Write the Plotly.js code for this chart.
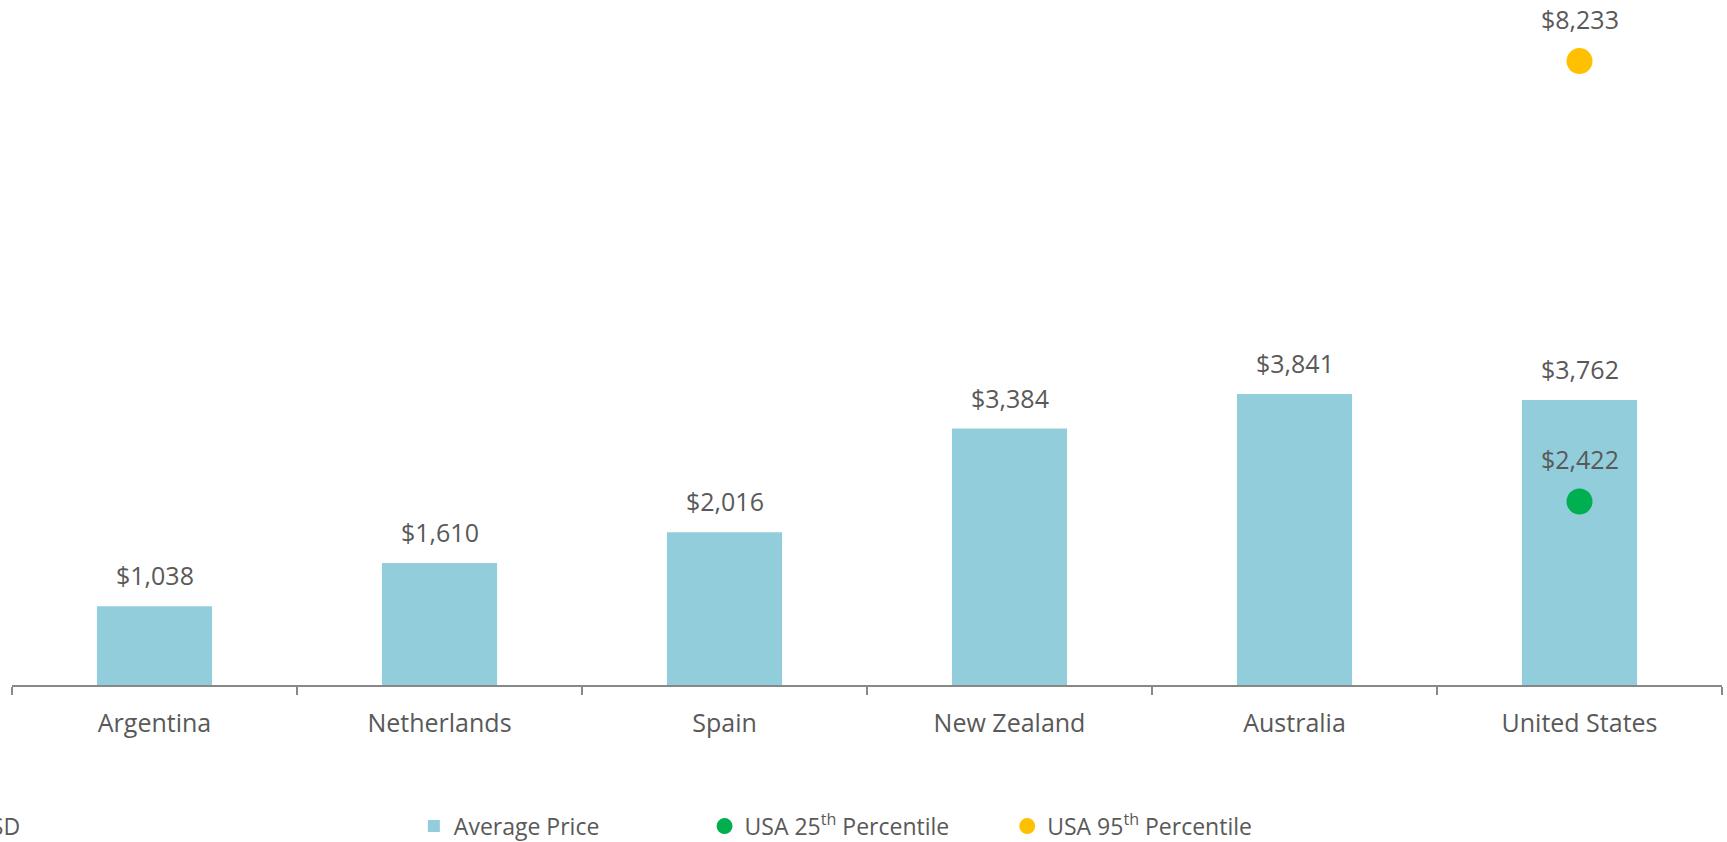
<!DOCTYPE html>
<html>
<head>
<meta charset="utf-8">
<script src="https://cdn.plot.ly/plotly-3.0.1.min.js"></script>
<style>
  html, body { margin: 0; padding: 0; background: #ffffff; }
  #chart { width: 1727px; height: 842px; }
</style>
</head>
<body>
<div id="chart"></div>
<script>
// ---- Data ----
const countries = ["Argentina", "Netherlands", "Spain", "New Zealand", "Australia", "United States"];
const averagePrice = [1038, 1610, 2016, 3384, 3841, 3762];
const usa25Category = ["United States"];
const usa25Value = [2422];
const usa95Category = ["United States"];
const usa95Value = [8233];
const seriesNames = ["Average Price", "USA 25<sup>th</sup> Percentile", "USA 95<sup>th</sup> Percentile"];
const unitLabel = "USD";

const fmt = v => "$" + v.toLocaleString("en-US");
const textColor = "#595959";
const fontFamily = "'Open Sans', 'Noto Sans', sans-serif";

const traces = [
  {
    type: "bar",
    name: seriesNames[0],
    x: countries,
    y: averagePrice,
    marker: { color: "#92CDDC" },
    legend: "legend"
  },
  {
    type: "scatter",
    mode: "markers",
    name: seriesNames[1],
    x: usa25Category,
    y: usa25Value,
    marker: { color: "#00B050", size: 26 },
    legend: "legend2"
  },
  {
    type: "scatter",
    mode: "markers",
    name: seriesNames[2],
    x: usa95Category,
    y: usa95Value,
    marker: { color: "#FFC000", size: 26 },
    legend: "legend3"
  }
];

const labelFont = { family: fontFamily, size: 25, color: textColor };
const annotations = [];
countries.forEach((c, i) => {
  annotations.push({
    x: c, y: averagePrice[i], xref: "x", yref: "y",
    text: fmt(averagePrice[i]), showarrow: false,
    yanchor: "bottom", yshift: 12, font: labelFont
  });
});
usa25Category.forEach((c, i) => {
  annotations.push({
    x: c, y: usa25Value[i], xref: "x", yref: "y",
    text: fmt(usa25Value[i]), showarrow: false,
    yanchor: "bottom", yshift: 23, font: labelFont
  });
});
usa95Category.forEach((c, i) => {
  annotations.push({
    x: c, y: usa95Value[i], xref: "x", yref: "y",
    text: fmt(usa95Value[i]), showarrow: false,
    yanchor: "bottom", yshift: 23, font: labelFont
  });
});
annotations.push({
  x: 0.006, y: -0.207, xref: "paper", yref: "paper",
  xanchor: "right", yanchor: "middle",
  text: unitLabel, showarrow: false,
  font: { family: fontFamily, size: 23, color: textColor }
});

const legendBase = {
  orientation: "h",
  xanchor: "left",
  y: -0.207, yanchor: "middle",
  font: { family: fontFamily, size: 23, color: textColor },
  bgcolor: "rgba(0,0,0,0)"
};

const layout = {
  width: 1727,
  height: 842,
  margin: { l: 12, r: 5, t: 3, b: 157, pad: 0, autoexpand: false },
  paper_bgcolor: "#ffffff",
  plot_bgcolor: "#ffffff",
  font: { family: fontFamily, color: textColor },
  bargap: 0.596,
  showlegend: true,
  legend: Object.assign({}, legendBase, { x: 0.235 }),
  legend2: Object.assign({}, legendBase, { x: 0.405 }),
  legend3: Object.assign({}, legendBase, { x: 0.582 }),
  xaxis: {
    type: "category",
    showline: true,
    linecolor: "#888888",
    linewidth: 2,
    ticks: "outside",
    tickson: "boundaries",
    ticklen: 8,
    tickwidth: 2,
    tickcolor: "#888888",
    tickfont: { family: fontFamily, size: 25, color: textColor },
    ticklabelstandoff: 15,
    showgrid: false,
    zeroline: false,
    automargin: false,
    fixedrange: true
  },
  yaxis: {
    range: [0, 9000],
    visible: false,
    showgrid: false,
    zeroline: false,
    fixedrange: true
  },
  annotations: annotations
};

Plotly.newPlot("chart", traces, layout, { displayModeBar: false, staticPlot: true });
</script>
</body>
</html>
